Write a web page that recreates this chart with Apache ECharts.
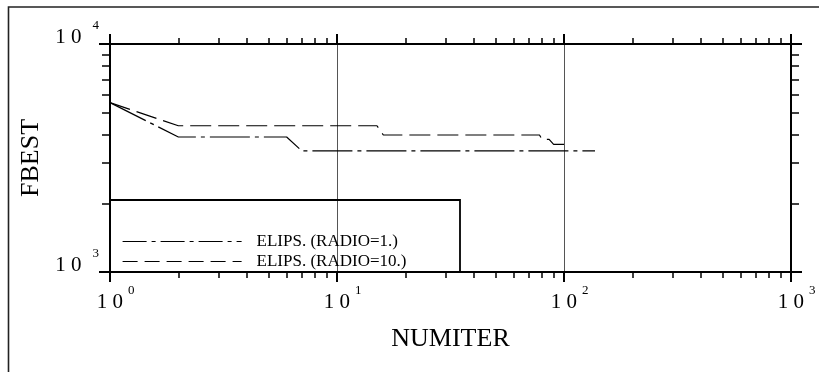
<!DOCTYPE html>
<html><head><meta charset="utf-8">
<script src="https://cdn.jsdelivr.net/npm/echarts@6/dist/echarts.min.js"></script>
<style>html,body{margin:0;padding:0;background:#fff}#c{width:819px;height:372px}</style>
</head><body><div id="c"></div>
<script>
// ---- data ----
const seriesNames = ['ELIPS. (RADIO=1.)', 'ELIPS. (RADIO=10.)'];
const radio1X = [1, 2, 6, 7, 137];
const radio1Y = [5530, 3910, 3910, 3395, 3395];
const radio10X = [1, 2, 15, 16, 78, 80, 86, 90, 100];
const radio10Y = [5530, 4380, 4380, 3990, 3990, 3820, 3820, 3630, 3630];
const xMajorTicks = [1, 10, 100, 1000];
const xTickExponents = ['0', '1', '2', '3'];
const xMinorTicks = [2,3,4,5,6,7,8,9,20,30,40,50,60,70,80,90,200,300,400,500,600,700,800,900];
const yMajorTicks = [1000, 10000];
const yTickExponents = ['3', '4'];
const yMinorTicks = [2000,3000,4000,5000,6000,7000,8000,9000];
const tickBase = '1 0';

const FONT = "'Liberation Serif','Times New Roman',serif";
function nearestIdx(arr, v) {
  let best = 0;
  arr.forEach((a, i) => { if (Math.abs(Math.log10(a) - Math.log10(v)) < Math.abs(Math.log10(arr[best]) - Math.log10(v))) best = i; });
  return best;
}
const zip = (xs, ys) => xs.map((x, i) => [x, ys[i]]);

const axisLineStyle = { color: '#000', width: 2 };
function xAxisDef(pos, major, extra) {
  return Object.assign({
    type: 'log', logBase: 10, min: 1, max: 1000, position: pos, gridIndex: 0,
    axisLine: { show: major, lineStyle: axisLineStyle },
    axisTick: { show: true, inside: false, length: major ? 10 : 6,
      lineStyle: { color: '#000', width: major ? 2 : 1.5 },
      customValues: major ? xMajorTicks : xMinorTicks },
    axisLabel: { show: false },
    splitLine: { show: false }
  }, extra || {});
}
function yAxisDef(pos, major, extra) {
  return Object.assign({
    type: 'log', logBase: 10, min: 1000, max: 10000, position: pos, gridIndex: 0,
    axisLine: { show: major, lineStyle: axisLineStyle },
    axisTick: { show: true, inside: false, length: major ? 11 : 8,
      lineStyle: { color: '#000', width: major ? 2 : 1.5 },
      customValues: major ? yMajorTicks : yMinorTicks },
    axisLabel: { show: false },
    splitLine: { show: false }
  }, extra || {});
}

const chart = echarts.init(document.getElementById('c'), null, { renderer: 'canvas' });
chart.setOption({
  animation: false,
  backgroundColor: '#fff',
  grid: { left: 110, top: 44, right: 28, bottom: 100, containLabel: false },
  graphic: [
    { type: 'rect', shape: { x: 8.5, y: 7, width: 840, height: 420 },
      style: { fill: 'none', stroke: '#222', lineWidth: 1.6 }, silent: true, z: 0 },
    { type: 'rect', shape: { x: 110, y: 200, width: 350, height: 72 },
      style: { fill: 'none', stroke: '#000', lineWidth: 1.8 }, silent: true, z: 10 }
  ],
  legend: {
    orient: 'vertical', left: 110, top: 233, padding: [0, 0, 0, 12],
    itemWidth: 119, itemHeight: 15, itemGap: 3,
    itemStyle: { opacity: 0 },
    textStyle: { fontFamily: FONT, fontSize: 17, color: '#000', padding: [0, 0, 0, 10] },
    data: [
      { name: seriesNames[0], itemStyle: { opacity: 0 }, lineStyle: { type: [24, 5, 4, 5], width: 1.2, color: '#000' } },
      { name: seriesNames[1], itemStyle: { opacity: 0 }, lineStyle: { type: [15, 7], width: 1.2, color: '#000' } }
    ],
    selectedMode: false
  },
  xAxis: [
    xAxisDef('bottom', true, {
      name: 'NUMITER', nameLocation: 'middle', nameGap: 54,
      nameTextStyle: { fontFamily: FONT, fontSize: 26, color: '#000' },
      axisLabel: {
        show: true, margin: 12, customValues: xMajorTicks,
        formatter: v => '{b|' + tickBase + '}{s|' + xTickExponents[nearestIdx(xMajorTicks, v)] + '}',
        rich: {
          b: { fontFamily: FONT, fontSize: 21, color: '#000', padding: [0, 0, 0, 11] },
          s: { fontFamily: FONT, fontSize: 13, color: '#000', padding: [0, 0, 23, 5] }
        }
      },
      splitLine: { show: true, lineStyle: { color: '#555', width: 1 } }
    }),
    xAxisDef('top', true),
    xAxisDef('bottom', false),
    xAxisDef('top', false)
  ],
  yAxis: [
    yAxisDef('left', true, {
      name: 'FBEST', nameLocation: 'middle', nameGap: 52,
      nameTextStyle: { fontFamily: FONT, fontSize: 26, color: '#000' },
      axisLabel: {
        show: true, margin: 11, customValues: yMajorTicks, padding: [0, 0, 14, 0],
        formatter: v => '{b|' + tickBase + '}{s|' + yTickExponents[nearestIdx(yMajorTicks, v)] + '}',
        rich: {
          b: { fontFamily: FONT, fontSize: 21, color: '#000' },
          s: { fontFamily: FONT, fontSize: 13, color: '#000', padding: [0, 0, 23, 11] }
        }
      }
    }),
    yAxisDef('right', true),
    yAxisDef('left', false),
    yAxisDef('right', false)
  ],
  series: [
    { name: seriesNames[0], type: 'line', xAxisIndex: 0, yAxisIndex: 0,
      data: zip(radio1X, radio1Y), showSymbol: false, symbol: 'none',
      lineStyle: { color: '#000', width: 1.2, type: [40, 5, 4, 5] }, itemStyle: { color: '#000' } },
    { name: seriesNames[1], type: 'line', xAxisIndex: 0, yAxisIndex: 0,
      data: zip(radio10X, radio10Y), showSymbol: false, symbol: 'none',
      lineStyle: { color: '#000', width: 1.2, type: [21, 7] }, itemStyle: { color: '#000' } }
  ]
});
</script></body></html>
